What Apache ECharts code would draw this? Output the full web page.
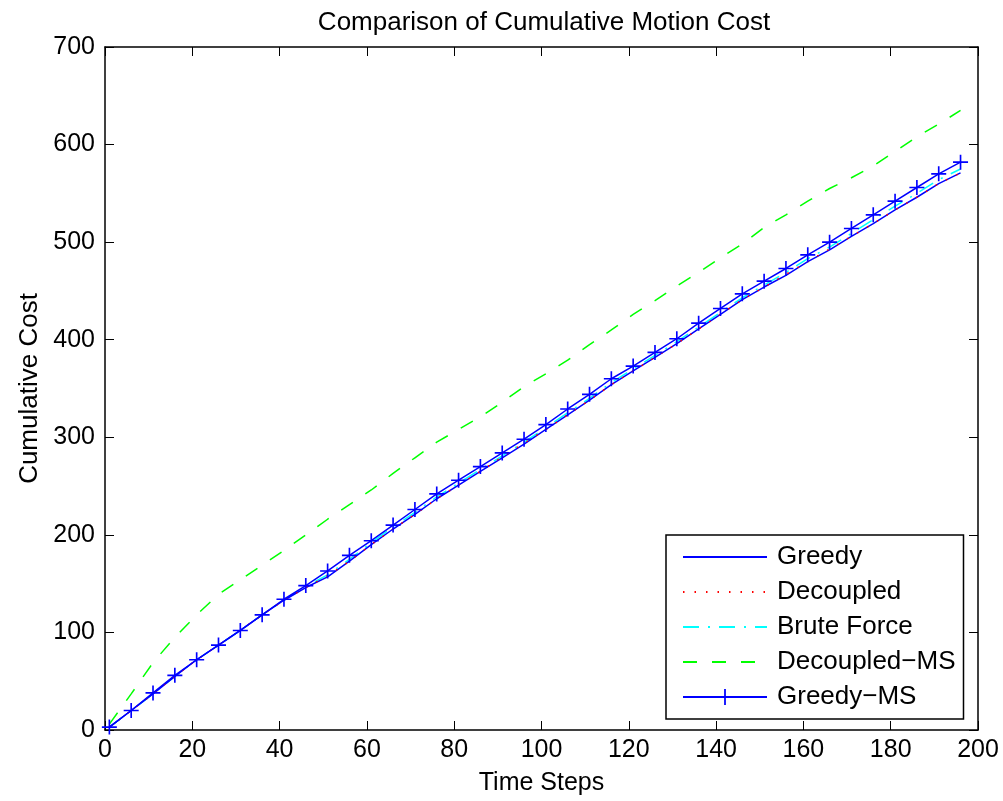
<!DOCTYPE html>
<html>
<head>
<meta charset="utf-8">
<script src="https://cdn.jsdelivr.net/npm/echarts@6/dist/echarts.min.js"></script>
<style>
html,body{margin:0;padding:0;background:#fff;}
#chart{width:1003px;height:801px;}
</style>
</head>
<body>
<div id="chart"></div>
<script>
// ---- data ----
var timeSteps = [1,6,11,16,21,26,31,36,41,46,51,56,61,66,71,76,81,86,91,96,101,106,111,116,121,126,131,136,141,146,151,156,161,166,171,176,181,186,191,196];
var greedy = [3,20,37,55,72,87,102,118,133,146,157,173,190,206,221,237,251,265,279,293,308,323,338,354,368,382,396,411,426,441,454,466,480,492,506,519,533,546,560,571];
var decoupled = [3,20,37,55,72,87,102,118,133,146,158,173,190,206,221,237,251,265,280,294,308,323,338,354,368,382,396,411,426,441,454,467,480,493,506,519,533,546,560,571];
var bruteForce = [3,20,37,55,72,87,102,118,133,147,159,175,192,208,223,239,253,267,281,295,310,325,340,356,370,384,398,413,428,443,456,469,483,495,509,523,537,550,564,575];
var decoupledMS = [6,37,69,95,118,139,154,169,184,200,216,231,246,263,279,295,308,321,336,352,365,379,395,410,426,440,455,469,484,498,515,528,542,555,566,578,593,608,621,635];
var greedyMS = [3,20,38,56,72,87,102,118,134,148,163,179,194,210,226,242,256,270,284,298,313,329,344,360,373,387,401,417,432,447,460,473,487,500,514,528,542,556,570,582];
var seriesNames = ['Greedy','Decoupled','Brute Force','Decoupled\u2212MS','Greedy\u2212MS'];
var xTicks = {min:0, max:200, interval:20};
var yTicks = {min:0, max:700, interval:100};

function pairs(ys){ return timeSteps.map(function(t,i){ return [t, ys[i]]; }); }

var FONT = 'Liberation Sans, Arial, Helvetica, sans-serif';
var plusPath = 'path://M4.45,0 H5.55 V4.45 H10 V5.55 H5.55 V10 H4.45 V5.55 H0 V4.45 H4.45 Z';

var chart = echarts.init(document.getElementById('chart'), null, {renderer:'canvas'});
var axisCommon = {
  type:'value',
  axisLine:{show:true, onZero:false, lineStyle:{color:'#000', width:1.5}},
  axisTick:{show:true, inside:true, length:9, lineStyle:{color:'#000', width:1}},
  splitLine:{show:false}
};
var hideSym = {opacity:0};
chart.setOption({
  animation:false,
  backgroundColor:'#fff',
  title:{
    text:'Comparison of Cumulative Motion Cost',
    left:539, top:5, textAlign:'center',
    textStyle:{fontFamily:FONT, fontSize:26, fontWeight:'normal', color:'#000'}
  },
  grid:{left:105, right:25, top:47, bottom:71, show:false},
  legend:{
    orient:'vertical', left:666, top:535,
    backgroundColor:'#fff', borderColor:'#000', borderWidth:1.5,
    padding:[9,8,9,16],
    itemWidth:84, itemHeight:20, itemGap:9,
    textStyle:{fontFamily:FONT, fontSize:26, color:'#000', lineHeight:26, padding:[0,0,0,5]},
    data:[
      {name:seriesNames[0], itemStyle:hideSym},
      {name:seriesNames[1], itemStyle:hideSym},
      {name:seriesNames[2], itemStyle:hideSym},
      {name:seriesNames[3], itemStyle:hideSym},
      {name:seriesNames[4]}
    ]
  },
  xAxis:[
    Object.assign({}, axisCommon, {
      position:'bottom', min:xTicks.min, max:xTicks.max, interval:xTicks.interval,
      name:'Time Steps', nameLocation:'middle', nameGap:41,
      nameTextStyle:{fontFamily:FONT, fontSize:25, color:'#000'},
      axisLabel:{fontFamily:FONT, fontSize:25, color:'#000', margin:8}
    }),
    Object.assign({}, axisCommon, {
      position:'top', min:xTicks.min, max:xTicks.max, interval:xTicks.interval,
      axisLabel:{show:false}
    })
  ],
  yAxis:[
    Object.assign({}, axisCommon, {
      position:'left', min:yTicks.min, max:yTicks.max, interval:yTicks.interval,
      name:'Cumulative Cost', nameLocation:'middle', nameGap:57,
      nameTextStyle:{fontFamily:FONT, fontSize:26, color:'#000'},
      axisLabel:{fontFamily:FONT, fontSize:25, color:'#000', margin:10}
    }),
    Object.assign({}, axisCommon, {
      position:'right', min:yTicks.min, max:yTicks.max, interval:yTicks.interval,
      axisLabel:{show:false}
    })
  ],
  series:[
    {name:seriesNames[0], type:'line', data:pairs(greedy), symbol:'none',
      lineStyle:{color:'#0000ff', width:1.5, type:'solid'}, itemStyle:{color:'#0000ff'}, z:3},
    {name:seriesNames[1], type:'line', data:pairs(decoupled), symbol:'none',
      lineStyle:{color:'#ff0000', width:1.5, type:[1.5,10]}, itemStyle:{color:'#ff0000'}, z:4},
    {name:seriesNames[2], type:'line', data:pairs(bruteForce), symbol:'none',
      lineStyle:{color:'#00ffff', width:1.5, type:[16,9,2,9]}, itemStyle:{color:'#00ffff'}, z:2},
    {name:seriesNames[3], type:'line', data:pairs(decoupledMS), symbol:'none',
      lineStyle:{color:'#00ff00', width:1.5, type:[14,15]}, itemStyle:{color:'#00ff00'}, z:2},
    {name:seriesNames[4], type:'line', data:pairs(greedyMS), symbol:plusPath, symbolSize:15,
      showAllSymbol:true,
      lineStyle:{color:'#0000ff', width:1.5, type:'solid'}, itemStyle:{color:'#0000ff'}, z:5}
  ]
});
</script>
</body>
</html>
